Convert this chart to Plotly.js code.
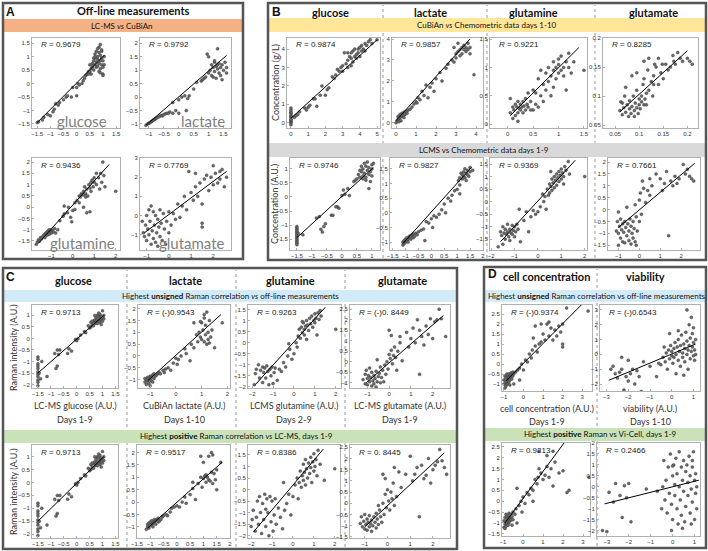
<!DOCTYPE html>
<html>
<head>
<meta charset="utf-8">
<script src="https://cdn.plot.ly/plotly-3.0.1.min.js"></script>
<style>html,body{margin:0;padding:0;background:#fff;}</style>
</head>
<body>
<div id="chart" style="width:708px;height:551px;"></div>
<script>
// ---- data: [x, y] points and fitted line ends ----

// A: LC-MS vs CuBiAn
var aGlucose = [[-1.5,-1.45],[-1.45,-1.42],[-1.3,-1.35],[-1.25,-1.25],[-1.1,-1.15],[-1.0,-1.2],[-0.9,-1.05],[-0.85,-0.95],[-0.8,-0.75],[-0.7,-0.8],[-0.65,-0.7],[-0.5,-0.6],[-0.4,-0.5],[-0.35,-0.45],[-0.2,-0.5],[-0.15,-0.15],[0.0,-0.45],[0.0,-0.15],[0.05,0.0],[0.1,-0.05],[0.2,0.0],[0.25,0.1],[0.3,0.2],[0.35,0.3],[0.4,0.35],[0.45,0.45],[0.5,0.45],[0.55,0.55],[0.55,0.35],[0.6,0.6],[0.6,0.75],[0.65,0.5],[0.65,0.85],[0.7,0.7],[0.7,0.95],[0.7,1.1],[0.75,0.6],[0.75,1.2],[0.8,0.65],[0.8,0.9],[0.8,1.0],[0.85,0.45],[0.85,0.75],[0.85,1.15],[0.85,1.35],[0.9,0.55],[0.9,0.85],[0.9,1.05],[0.9,1.45],[0.95,0.7],[0.95,0.95],[0.95,1.2],[1.0,0.6],[1.0,0.85],[1.0,0.35],[1.0,0.3],[1.05,1.0],[1.05,0.7],[0.65,0.95],[0.75,0.8],[0.8,1.3],[0.95,1.25],[0.7,1.0],[0.6,0.65],[0.5,0.7],[0.45,0.35],[0.9,0.4]];
var aGlucoseFit = [[-1.5,-1.45],[1.05,1.05]];
var aLactate = [[-1.1,-1.05],[-1.05,-1.0],[-1.0,-0.97],[-0.97,-0.95],[-0.93,-0.92],[-0.9,-0.9],[-0.87,-0.87],[-0.85,-0.85],[-0.8,-0.82],[-0.78,-0.8],[-0.75,-0.78],[-0.7,-0.75],[-0.65,-0.72],[-0.6,-0.68],[-0.55,-0.7],[-0.5,-0.65],[-0.45,-0.62],[-0.4,-0.6],[-0.35,-0.6],[-0.3,-0.55],[-0.2,-0.6],[-0.1,-0.5],[0.0,-0.6],[-0.2,-0.2],[0.0,-0.1],[0.1,0.0],[0.2,0.05],[0.3,-0.05],[0.35,0.05],[0.25,-0.5],[0.5,0.3],[0.6,0.55],[0.75,0.6],[0.8,0.65],[0.85,0.7],[0.9,0.75],[0.95,1.6],[1.0,0.9],[1.05,1.0],[1.1,0.8],[1.1,1.2],[1.15,0.75],[1.15,1.1],[1.2,1.3],[1.2,0.95],[1.25,1.15],[1.25,0.7],[1.3,1.8],[1.3,1.2],[1.3,1.05],[1.35,1.25],[1.35,0.9],[1.4,1.1],[1.4,0.8],[1.45,1.2],[1.45,0.65],[1.5,1.0],[1.55,1.3],[1.6,1.1],[1.6,0.9],[1.0,1.5],[1.2,1.35]];
var aLactateFit = [[-1.1,-1.05],[1.6,1.55]];
var aGlutamine = [[-1.7,-1.65],[-1.65,-1.55],[-1.6,-1.45],[-1.55,-1.5],[-1.5,-1.35],[-1.45,-1.4],[-1.4,-1.3],[-1.35,-1.25],[-1.3,-1.35],[-1.3,-1.2],[-1.25,-1.15],[-1.2,-1.25],[-1.2,-1.1],[-1.15,-1.05],[-1.1,-1.2],[-1.1,-1.0],[-1.05,-1.1],[-1.0,-1.15],[-1.0,-1.0],[-0.95,-1.05],[-0.9,-1.1],[-0.85,-0.95],[-0.8,-1.15],[-0.7,-1.0],[-0.6,-0.6],[-0.45,-0.4],[-0.4,-0.3],[-0.4,0.05],[-0.25,-0.25],[-0.1,-0.45],[-0.05,-0.65],[0.0,-0.15],[0.1,-0.1],[0.1,0.2],[0.2,0.3],[0.3,0.5],[0.35,0.45],[0.4,0.6],[0.45,0.55],[0.5,0.7],[0.5,0.55],[0.55,0.9],[0.6,0.6],[0.6,0.45],[0.65,0.8],[0.7,0.5],[0.75,1.0],[0.8,0.85],[0.85,0.7],[0.85,1.1],[0.9,1.2],[0.95,0.9],[1.0,1.3],[1.0,1.1],[1.1,1.0],[1.1,1.5],[1.2,1.3],[1.25,0.8],[1.3,1.5],[1.35,1.1],[1.4,2.0],[1.45,1.4],[1.5,0.9],[2.0,0.7],[0.8,-0.2],[0.5,0.0],[0.65,-0.25],[0.3,0.2],[-0.2,0.0]];
var aGlutamineFit = [[-1.6,-1.6],[1.7,1.9]];
var aGlutamate = [[-1.2,-0.3],[-1.15,-0.9],[-1.1,-1.1],[-1.05,-0.5],[-1.0,0.0],[-1.0,-1.3],[-0.95,-0.7],[-0.9,0.3],[-0.9,-1.0],[-0.85,-0.3],[-0.8,-1.5],[-0.8,0.5],[-0.75,-0.8],[-0.7,0.2],[-0.7,-1.2],[-0.65,-0.5],[-0.6,0.0],[-0.6,-1.4],[-0.55,-0.9],[-0.5,-0.2],[-0.5,-1.6],[-0.45,-0.6],[-0.4,0.3],[-0.4,-1.1],[-0.35,-0.4],[-0.3,-1.3],[-0.25,0.1],[-0.2,-0.7],[-0.15,-1.5],[-0.1,-0.3],[0.0,0.2],[0.0,-0.9],[0.1,-0.5],[0.2,0.1],[0.3,-0.2],[0.4,0.6],[0.5,-0.1],[0.6,0.5],[0.7,1.0],[0.8,0.3],[0.9,2.3],[1.0,1.2],[1.1,0.8],[1.2,1.5],[1.3,1.0],[1.4,1.7],[1.5,0.6],[1.5,-0.4],[1.5,-0.6],[1.6,1.9],[1.7,2.1],[1.8,1.3],[1.9,2.0],[2.0,2.6],[2.1,2.2],[2.2,1.7],[2.3,2.3],[2.4,2.4],[2.5,1.5],[2.6,2.0],[2.3,1.9],[2.0,1.6],[1.2,2.2]];
var aGlutamateFit = [[-1.1,-0.9],[2.6,2.3]];

// B: CuBiAn vs chemometric (days 1-10)
var bGlucose = [[0,-0.1],[0,0],[0,0.05],[0,0.1],[0,0.15],[0,0.2],[0,0.3],[0,0.35],[0,0.4],[0,0.5],[0,0.55],[0,0.6],[0,0.7],[0,0.8],[0.2,0.3],[0.3,0.4],[0.4,0.45],[0.5,0.6],[0.8,0.8],[0.9,0.7],[1.0,0.85],[1.1,0.95],[1.3,1.3],[1.4,1.3],[1.5,0.9],[1.7,1.5],[1.8,2.0],[2.0,1.5],[2.1,1.8],[2.2,1.9],[2.4,2.5],[2.5,2.4],[2.6,2.6],[2.8,2.8],[2.9,3.0],[3.0,3.1],[3.0,2.8],[3.1,3.8],[3.2,3.2],[3.3,3.4],[3.3,3.0],[3.4,3.6],[3.5,3.5],[3.5,3.8],[3.6,3.3],[3.6,3.9],[3.7,3.6],[3.7,4.0],[3.8,3.7],[3.8,3.5],[3.9,4.0],[3.9,3.8],[4.0,4.1],[4.0,3.6],[4.1,3.9],[4.1,4.2],[4.2,4.0],[4.3,4.3],[4.3,3.9],[4.4,4.2],[4.5,4.4],[4.6,4.5],[4.7,4.3],[5.0,4.5],[3.3,3.8],[2.7,2.9],[3.5,3.1]];
var bGlucoseFit = [[0,0.25],[5,4.5]];
var bLactate = [[0.0,0.0],[0.05,0.1],[0.1,0.15],[0.1,0.3],[0.15,0.2],[0.2,0.25],[0.2,0.4],[0.25,0.1],[0.3,0.3],[0.3,0.45],[0.35,0.35],[0.4,0.5],[0.4,0.25],[0.45,0.4],[0.5,0.55],[0.55,0.45],[0.6,0.6],[0.7,0.65],[0.8,0.75],[0.9,0.9],[1.0,1.0],[1.05,0.95],[1.1,1.2],[1.2,1.1],[1.3,1.5],[1.4,1.3],[1.5,1.8],[1.6,1.2],[1.7,1.7],[1.8,1.9],[1.9,1.5],[2.0,2.1],[2.2,2.4],[2.3,2.0],[2.5,2.6],[2.6,2.8],[2.8,3.0],[2.9,2.9],[3.0,3.3],[3.0,3.1],[3.1,3.4],[3.2,3.5],[3.2,3.2],[3.3,3.6],[3.3,3.3],[3.4,3.5],[3.4,3.7],[3.5,3.4],[3.5,3.6],[3.6,3.5],[3.6,3.8],[3.7,3.6],[3.7,3.3],[2.9,3.6],[3.1,3.8],[3.9,2.3],[4.5,3.4],[0.15,0.05],[0.25,0.35]];
var bLactateFit = [[0,0.1],[3.7,4.0]];
var bGlutamine = [[0.05,0.2],[0.05,0.45],[0.1,0.1],[0.1,0.3],[0.12,0.25],[0.15,0.15],[0.15,0.35],[0.18,0.3],[0.2,0.2],[0.2,0.4],[0.22,0.28],[0.25,0.25],[0.25,0.35],[0.28,0.3],[0.3,0.2],[0.3,0.4],[0.32,0.32],[0.35,0.25],[0.35,0.45],[0.38,0.35],[0.4,0.3],[0.4,0.55],[0.45,0.4],[0.5,0.25],[0.5,0.6],[0.55,0.55],[0.6,0.3],[0.6,0.8],[0.65,0.5],[0.7,0.7],[0.7,0.4],[0.75,0.9],[0.75,0.6],[0.8,0.75],[0.8,1.0],[0.85,0.85],[0.85,0.5],[0.9,0.95],[0.9,1.1],[0.95,0.8],[0.95,1.0],[1.0,0.9],[1.0,1.15],[1.0,1.05],[1.05,0.95],[1.05,1.2],[1.1,1.0],[1.1,0.85],[1.15,1.1],[1.15,0.6],[1.2,1.0],[1.2,1.25],[1.25,0.9],[1.3,1.1],[1.5,0.95],[0.45,0.25],[0.55,0.35],[0.65,0.95],[0.2,0.05],[0.9,0.65]];
var bGlutamineFit = [[0.05,0.15],[1.4,1.35]];
var bGlutamate = [[0.06,0.075],[0.062,0.09],[0.065,0.068],[0.068,0.08],[0.07,0.1],[0.072,0.072],[0.075,0.085],[0.078,0.065],[0.08,0.078],[0.08,0.092],[0.083,0.07],[0.085,0.082],[0.088,0.1],[0.09,0.075],[0.09,0.065],[0.092,0.088],[0.095,0.08],[0.095,0.11],[0.098,0.07],[0.1,0.095],[0.1,0.085],[0.102,0.078],[0.105,0.09],[0.105,0.1],[0.108,0.12],[0.11,0.085],[0.11,0.13],[0.112,0.095],[0.115,0.105],[0.118,0.145],[0.12,0.11],[0.12,0.165],[0.125,0.125],[0.128,0.1],[0.13,0.135],[0.132,0.155],[0.135,0.15],[0.14,0.12],[0.14,0.165],[0.145,0.14],[0.148,0.155],[0.15,0.13],[0.155,0.155],[0.16,0.145],[0.165,0.15],[0.17,0.17],[0.172,0.16],[0.175,0.155],[0.18,0.175],[0.185,0.165],[0.19,0.16],[0.2,0.165],[0.205,0.16],[0.21,0.155],[0.085,0.135],[0.095,0.14],[0.072,0.115],[0.065,0.088],[0.115,0.085],[0.13,0.12],[0.11,0.16]];
var bGlutamateFit = [[0.06,0.073],[0.2,0.178]];

// B: LCMS vs chemometric (days 1-9)
var bGlucose2 = [[-1.5,-1.05],[-1.5,-1.1],[-1.5,-1.15],[-1.5,-1.2],[-1.5,-1.25],[-1.5,-1.3],[-1.5,-1.35],[-1.5,-1.4],[-1.5,-1.45],[-1.5,-1.5],[-1.5,-1.55],[-1.5,-1.6],[-1.5,-1.65],[-1.5,-1.7],[-1.45,-1.3],[-1.3,-1.35],[-0.85,-0.75],[-0.75,-0.7],[-0.7,-1.15],[-0.65,-1.25],[-0.6,-1.05],[-0.55,-0.95],[-0.35,-0.65],[-0.3,-0.65],[-0.15,-0.35],[-0.1,-0.4],[-0.2,-0.35],[0.0,0.05],[0.05,0.25],[0.1,0.1],[0.2,0.3],[0.25,0.05],[0.4,0.55],[0.45,0.6],[0.5,0.65],[0.55,0.8],[0.6,0.7],[0.65,0.9],[0.7,0.75],[0.7,1.0],[0.75,0.85],[0.75,1.2],[0.8,0.7],[0.8,1.1],[0.85,0.95],[0.85,1.25],[0.9,0.8],[0.9,1.05],[0.95,0.9],[0.95,0.55],[1.0,1.15],[1.0,0.75],[1.0,1.0],[0.9,0.3],[0.7,0.65],[0.6,0.95],[0.8,0.6],[0.65,1.1],[1.05,1.2]];
var bGlucose2Fit = [[-1.5,-1.45],[1.05,1.05]];
var bLactate2 = [[-1.1,-1.1],[-1.1,-1.0],[-1.05,-1.05],[-1.05,-0.95],[-1.0,-1.0],[-1.0,-0.9],[-0.95,-0.95],[-0.95,-0.85],[-0.9,-0.9],[-0.9,-1.0],[-0.85,-0.85],[-0.85,-0.8],[-0.8,-0.9],[-0.8,-0.8],[-0.75,-0.75],[-0.7,-0.85],[-0.7,-0.72],[-0.65,-0.8],[-0.6,-0.7],[-0.55,-0.75],[-0.5,-0.65],[-0.4,-0.6],[-0.3,-0.55],[-0.2,-0.3],[-0.1,-0.35],[0.0,-0.2],[0.05,-0.5],[0.1,-0.1],[0.2,-0.15],[0.3,-0.05],[0.4,0.1],[0.5,0.3],[0.55,0.0],[0.65,0.5],[0.75,0.4],[0.8,0.6],[0.9,0.75],[1.0,0.8],[1.05,1.1],[1.1,1.2],[1.1,0.95],[1.15,1.35],[1.2,1.3],[1.2,1.15],[1.25,1.4],[1.25,1.25],[1.3,1.5],[1.3,1.2],[1.35,1.35],[1.35,1.1],[1.4,1.45],[1.4,1.3],[1.45,1.25],[1.5,1.4],[1.5,1.55],[1.6,1.45],[1.1,0.65],[-0.25,-0.95]];
var bLactate2Fit = [[-1.1,-1.05],[1.55,1.55]];
var bGlutamine2 = [[-1.7,-1.8],[-1.6,-1.2],[-1.55,-1.35],[-1.5,-1.7],[-1.5,-1.0],[-1.45,-1.25],[-1.4,-1.5],[-1.4,-1.1],[-1.35,-1.3],[-1.3,-0.9],[-1.3,-1.2],[-1.25,-1.4],[-1.2,-1.1],[-1.2,-1.55],[-1.15,-1.25],[-1.1,-0.95],[-1.1,-1.3],[-1.05,-1.15],[-1.0,-1.0],[-1.0,-1.4],[-0.95,-1.2],[-0.9,-0.9],[-0.85,-1.1],[-0.8,-0.3],[-0.75,-1.6],[-0.6,-0.75],[-0.5,-0.4],[-0.4,-1.2],[-0.3,-0.6],[-0.2,-0.35],[-0.1,-0.5],[0.0,-0.4],[0.1,-0.2],[0.2,0.3],[0.25,0.0],[0.3,0.2],[0.35,-0.3],[0.4,0.5],[0.45,0.25],[0.5,0.7],[0.5,0.35],[0.55,0.6],[0.6,0.9],[0.6,0.45],[0.65,0.75],[0.7,1.0],[0.7,0.55],[0.75,0.85],[0.8,1.1],[0.8,0.65],[0.85,0.95],[0.9,1.2],[0.9,0.8],[0.95,1.05],[1.0,1.3],[1.0,0.9],[1.05,1.15],[1.1,1.0],[1.15,1.4],[1.2,1.25],[1.3,1.6],[1.35,1.1],[2.0,1.0],[0.55,1.2],[1.1,0.7]];
var bGlutamine2Fit = [[-1.6,-1.6],[1.6,1.65]];
var bGlutamate2 = [[-1.1,-0.9],[-1.05,-0.5],[-1.0,-1.0],[-1.0,-0.1],[-0.95,-0.7],[-0.9,-1.2],[-0.9,-0.4],[-0.85,-0.85],[-0.8,-0.6],[-0.8,-1.35],[-0.75,-0.95],[-0.7,-0.5],[-0.7,-1.4],[-0.65,-0.75],[-0.6,-1.1],[-0.55,-0.6],[-0.5,-1.3],[-0.5,-0.9],[-0.45,-0.4],[-0.4,-1.45],[-0.4,-0.7],[-0.35,-1.0],[-0.3,-1.2],[-0.3,-0.5],[-0.25,-0.8],[-0.2,-1.35],[-0.2,0.2],[-0.15,-0.3],[-0.1,-0.9],[0.0,-0.5],[0.0,0.4],[0.05,0.7],[0.1,-0.2],[0.15,1.2],[0.2,0.9],[0.3,0.3],[0.4,0.8],[0.5,0.6],[0.5,1.3],[0.6,1.0],[0.8,1.5],[1.0,1.3],[1.1,0.8],[1.3,1.6],[1.4,-1.1],[1.5,1.2],[1.6,1.0],[1.7,1.4],[1.8,1.1],[1.9,1.3],[2.1,1.9],[2.2,1.5],[2.3,1.7],[2.4,1.4],[2.5,1.3],[2.6,1.2],[1.2,1.1],[-0.6,0.1],[-1.0,-1.5],[-0.15,-1.5]];
var bGlutamate2Fit = [[-1.0,-0.75],[2.65,1.95]];

// C: Raman vs off-line, unsigned (top) and positive (bottom)
var cGlucose = [[-1.5,-0.8],[-1.5,-0.9],[-1.5,-1.1],[-1.5,-1.2],[-1.5,-1.3],[-1.5,-1.45],[-1.5,-1.55],[-1.5,-1.65],[-1.5,-1.8],[-1.5,-1.9],[-1.5,-2.05],[-1.45,-1.5],[-1.4,-1.75],[-1.35,-1.0],[-1.15,-1.65],[-0.85,-0.65],[-0.75,-0.5],[-0.7,-0.7],[-0.8,-1.3],[-0.75,-1.2],[-0.65,-0.5],[-0.35,-0.65],[-0.3,-0.45],[-0.2,-0.55],[-0.05,-0.05],[0.0,-0.1],[0.05,0.0],[0.15,0.15],[0.3,0.3],[0.35,0.25],[0.45,0.55],[0.5,0.45],[0.55,0.7],[0.55,0.5],[0.6,0.6],[0.65,0.75],[0.65,0.55],[0.7,0.8],[0.7,0.65],[0.75,0.9],[0.75,0.7],[0.8,1.0],[0.8,0.8],[0.8,0.65],[0.85,0.95],[0.85,0.75],[0.9,1.05],[0.9,0.85],[0.9,0.7],[0.95,0.95],[0.95,0.8],[1.0,1.2],[1.0,0.9],[1.0,0.75],[1.05,1.0],[1.05,0.85],[0.85,1.1],[0.7,1.0],[0.6,0.75],[0.95,0.6]];
var cGlucoseFit = [[-1.5,-1.5],[1.05,1.0]];
var cLactate = [[-1.2,-1.1],[-1.2,-0.95],[-1.15,-1.2],[-1.15,-1.0],[-1.1,-1.05],[-1.1,-0.9],[-1.05,-1.15],[-1.05,-0.95],[-1.0,-1.0],[-1.0,-0.85],[-1.0,-1.25],[-0.95,-0.9],[-0.95,-1.05],[-0.9,-0.8],[-0.9,-1.1],[-0.85,-0.95],[-0.85,-0.75],[-0.8,-0.85],[-0.75,-0.8],[-0.7,-0.75],[-0.65,-0.7],[-0.6,-0.75],[-0.5,-0.6],[-0.45,-0.7],[-0.4,-0.55],[-0.3,-0.5],[-0.2,-0.6],[-0.1,-0.3],[0.0,-0.1],[0.05,-0.35],[0.1,-0.15],[0.2,0.0],[0.35,0.3],[0.4,0.1],[0.55,-0.2],[0.6,0.5],[0.7,0.35],[0.8,0.9],[0.85,0.6],[0.9,1.0],[0.95,0.8],[1.0,1.4],[1.0,0.7],[1.05,1.1],[1.1,0.6],[1.1,1.6],[1.15,0.9],[1.15,1.3],[1.2,0.5],[1.2,1.85],[1.25,1.0],[1.25,0.7],[1.3,1.5],[1.3,0.55],[1.35,0.8],[1.4,1.1],[1.5,0.35],[1.8,1.4],[0.7,1.4],[0.95,1.45],[1.1,1.75]];
var cLactateFit = [[-1.1,-1.05],[1.75,1.75]];
var cGlutamine = [[-1.9,-1.9],[-1.85,-1.4],[-1.8,-1.2],[-1.7,-1.0],[-1.65,-1.6],[-1.6,-1.25],[-1.5,-1.1],[-1.5,-1.8],[-1.45,-1.35],[-1.4,-1.15],[-1.35,-1.6],[-1.3,-1.05],[-1.25,-1.3],[-1.2,-1.9],[-1.15,-1.2],[-1.1,-1.5],[-1.05,-1.1],[-1.0,-1.85],[-0.95,-1.35],[-0.9,-1.15],[-0.8,-1.7],[-0.7,-1.2],[-0.6,-1.3],[-0.5,-0.9],[-0.4,-1.1],[-0.3,-0.6],[-0.2,-0.3],[-0.1,-0.75],[0.0,-0.5],[0.1,0.0],[0.15,-0.2],[0.2,0.3],[0.25,0.6],[0.3,0.2],[0.35,0.7],[0.4,0.45],[0.45,0.9],[0.5,0.6],[0.55,0.75],[0.6,1.0],[0.65,0.8],[0.7,0.55],[0.75,1.1],[0.8,0.85],[0.85,1.2],[0.9,0.7],[0.95,1.0],[1.0,1.3],[1.0,0.9],[1.05,1.1],[1.1,0.35],[1.15,1.35],[1.2,1.05],[1.3,1.2],[2.0,0.6],[0.5,0.35],[0.4,0.95],[0.6,0.15],[-0.25,-0.05],[1.25,1.45]];
var cGlutamineFit = [[-1.85,-1.9],[1.5,1.6]];
var cGlutamate = [[-1.2,-0.85],[-1.1,-0.6],[-1.1,-1.05],[-1.05,-0.4],[-1.0,-0.8],[-1.0,-1.1],[-0.95,-0.65],[-0.9,-0.95],[-0.9,-0.3],[-0.85,-0.75],[-0.8,-1.15],[-0.8,-0.5],[-0.75,-0.9],[-0.7,-0.65],[-0.7,-1.05],[-0.65,-0.8],[-0.6,-0.45],[-0.6,-1.2],[-0.55,-0.95],[-0.5,-0.7],[-0.45,-0.55],[-0.4,-1.0],[-0.4,-0.25],[-0.35,-0.75],[-0.3,-0.4],[-0.25,-0.95],[-0.2,-0.15],[-0.15,-0.6],[-0.1,0.0],[-0.05,-0.35],[0.0,0.35],[0.05,0.15],[0.1,0.55],[0.15,-0.1],[0.2,0.3],[0.25,0.7],[0.3,0.2],[0.4,0.5],[0.5,0.9],[0.0,1.5],[0.1,1.25],[0.5,1.2],[0.8,1.4],[0.9,0.7],[1.0,1.1],[1.1,1.6],[1.2,0.9],[1.3,2.0],[1.4,1.5],[1.4,-0.6],[1.5,1.2],[1.6,0.8],[1.7,1.7],[1.8,1.3],[1.9,2.05],[2.0,1.1],[2.1,1.9],[2.2,2.0],[2.3,2.5],[2.4,2.05],[2.6,1.2],[-0.55,0.1],[0.35,-0.4],[0.6,0.05]];
var cGlutamateFit = [[-1.05,-1.0],[2.5,2.2]];
var cLactate2 = [[-1.15,-1.1],[-1.1,-1.0],[-1.1,-0.9],[-1.05,-1.05],[-1.05,-0.85],[-1.0,-0.95],[-1.0,-0.8],[-0.95,-0.9],[-0.95,-0.75],[-0.9,-0.85],[-0.9,-1.0],[-0.85,-0.8],[-0.85,-0.7],[-0.8,-0.75],[-0.8,-0.9],[-0.75,-0.7],[-0.7,-0.8],[-0.7,-0.65],[-0.65,-0.75],[-0.6,-0.7],[-0.55,-0.6],[-0.5,-0.55],[-0.4,-0.5],[-0.35,-0.55],[-0.25,-0.4],[-0.2,-0.25],[-0.1,-0.2],[0.0,-0.15],[0.1,-0.2],[0.2,0.0],[0.3,0.2],[0.35,-0.05],[0.5,0.3],[0.6,0.55],[0.7,0.1],[0.8,0.75],[0.9,1.0],[0.95,0.6],[1.0,0.95],[1.05,1.05],[1.1,0.8],[1.1,1.1],[1.15,1.0],[1.2,0.9],[1.2,1.85],[1.25,0.85],[1.3,2.0],[1.3,1.2],[1.35,0.75],[1.35,1.9],[1.4,1.15],[1.45,0.9],[1.5,0.5],[1.5,1.3],[1.65,1.6],[0.9,1.85],[1.0,1.6],[0.6,0.8]];
var cLactate2Fit = [[-1.1,-1.05],[1.7,1.6]];
var cGlutamine2 = [[-2.0,-1.6],[-1.95,-1.3],[-1.9,-0.9],[-1.8,-1.8],[-1.75,-1.2],[-1.7,-0.5],[-1.65,-1.5],[-1.6,-0.3],[-1.55,-1.0],[-1.5,-1.9],[-1.45,-0.6],[-1.4,-1.3],[-1.35,-0.2],[-1.3,-1.6],[-1.25,-0.4],[-1.2,-1.0],[-1.15,-2.0],[-1.1,-0.3],[-1.05,-1.4],[-1.0,-0.5],[-0.95,-1.8],[-0.9,-1.1],[-0.85,-0.4],[-0.8,-1.5],[-0.7,-0.8],[-0.6,-1.2],[-0.5,-1.7],[-0.4,-0.9],[-0.3,-0.6],[-0.2,-0.2],[-0.1,-1.1],[0.0,-0.3],[0.1,0.2],[0.2,0.5],[0.25,-0.4],[0.3,0.3],[0.35,0.8],[0.4,0.1],[0.45,0.6],[0.5,1.1],[0.5,0.4],[0.55,0.75],[0.6,0.2],[0.6,1.3],[0.65,0.9],[0.7,0.5],[0.75,1.15],[0.8,0.7],[0.85,1.4],[0.85,0.95],[0.9,0.3],[0.95,1.2],[1.0,0.8],[1.0,1.55],[1.05,1.0],[1.1,1.3],[1.15,0.6],[1.2,1.7],[1.3,1.1],[2.0,0.9],[1.5,0.4],[-0.45,0.3],[-1.3,-0.85]];
var cGlutamine2Fit = [[-1.9,-1.85],[1.45,1.75]];
var cGlutamate2 = [[-1.2,-0.9],[-1.15,-0.6],[-1.1,-1.05],[-1.05,-0.8],[-1.0,-1.15],[-1.0,-0.5],[-0.95,-0.95],[-0.9,-0.7],[-0.9,-1.2],[-0.85,-0.85],[-0.8,-1.05],[-0.8,-0.55],[-0.75,-0.9],[-0.7,-0.75],[-0.7,-1.25],[-0.65,-1.0],[-0.6,-0.6],[-0.55,-0.85],[-0.5,-1.1],[-0.5,-0.45],[-0.45,-0.7],[-0.4,-0.95],[-0.35,-0.3],[-0.3,-0.6],[-0.25,-0.85],[-0.2,0.0],[-0.15,-0.5],[-0.1,0.4],[-0.05,-0.2],[0.0,0.6],[0.05,0.1],[0.1,-0.3],[0.15,0.5],[0.2,0.2],[0.25,0.9],[0.3,-0.1],[-0.2,1.3],[-0.1,1.1],[0.3,1.6],[0.5,1.4],[0.6,0.7],[0.8,1.3],[1.0,2.1],[1.1,1.0],[1.2,1.3],[1.3,1.6],[1.4,-0.6],[1.5,1.7],[1.6,1.1],[1.7,1.25],[1.8,2.0],[1.9,0.9],[2.0,1.5],[2.1,1.7],[2.2,1.85],[2.3,2.4],[2.4,1.9],[2.5,1.6],[2.6,1.3],[-0.4,-0.1],[0.4,0.3]];
var cGlutamate2Fit = [[-1.0,-1.05],[2.5,2.25]];

// D: cell concentration and viability
var dCells = [[-1.0,-1.0],[-1.0,-0.8],[-0.95,-1.2],[-0.95,-0.6],[-0.9,-0.9],[-0.9,-0.7],[-0.9,-1.1],[-0.85,-0.5],[-0.85,-0.85],[-0.85,-1.0],[-0.8,-0.75],[-0.8,-0.6],[-0.8,-0.95],[-0.75,-0.7],[-0.75,-0.5],[-0.75,-0.9],[-0.7,-0.8],[-0.7,-0.6],[-0.7,-1.05],[-0.65,-0.65],[-0.65,-0.45],[-0.6,-0.75],[-0.6,-0.55],[-0.55,-0.6],[-0.55,-0.4],[-0.5,-0.5],[-0.4,-0.4],[-0.3,-0.3],[-0.2,-0.2],[-0.1,0.0],[0.0,-0.3],[0.1,0.2],[0.2,0.1],[0.3,0.5],[0.4,0.3],[0.45,0.7],[0.5,1.3],[0.6,0.9],[0.7,0.6],[0.8,1.0],[0.9,1.1],[1.0,1.5],[1.1,1.2],[1.2,2.0],[1.3,1.4],[1.4,1.8],[1.5,1.2],[1.6,1.7],[1.7,1.4],[1.8,1.9],[1.9,1.6],[2.0,2.0],[2.0,1.0],[2.0,0.85],[2.2,2.8],[3.3,2.65],[-0.5,-1.0],[-0.2,-0.8],[0.6,1.9],[0.9,2.0],[1.3,2.1]];
var dCellsFit = [[-0.9,-0.85],[2.95,2.95]];
var dViability = [[-2.8,-1.0],[-2.7,-0.8],[-2.6,-1.3],[-2.5,-1.6],[-2.4,-1.2],[-2.3,-1.0],[-2.2,-2.4],[-2.1,-1.5],[-2.0,-1.8],[-2.0,-0.4],[-1.9,-1.3],[-1.8,-1.0],[-1.7,-2.0],[-1.6,-1.1],[-1.5,-1.5],[-1.4,-2.5],[-1.3,-0.5],[-2.3,-0.2],[-1.0,-0.8],[-0.7,-1.5],[-0.5,-0.7],[-0.4,-0.2],[-0.35,0.5],[-0.3,-0.5],[-0.25,0.1],[-0.2,-1.0],[-0.15,0.3],[-0.1,-0.3],[-0.05,0.6],[0.0,-0.1],[0.0,0.2],[0.05,-0.6],[0.1,0.4],[0.1,-0.2],[0.15,0.8],[0.2,0.0],[0.2,-1.3],[0.25,0.5],[0.3,-0.4],[0.3,1.0],[0.35,0.2],[0.4,-0.8],[0.4,0.6],[0.45,1.3],[0.5,0.1],[0.5,-0.2],[0.55,0.7],[0.6,-0.5],[0.6,0.4],[0.65,1.5],[0.7,0.0],[0.7,0.9],[0.75,-1.0],[0.75,0.3],[0.8,2.0],[0.8,0.6],[0.85,-0.3],[0.85,1.1],[0.9,0.2],[0.9,2.5],[0.95,0.5],[0.95,1.4],[1.0,-0.1],[1.0,0.8],[1.0,1.8],[1.05,0.3],[1.05,-0.4],[1.1,1.0],[1.1,0.0],[0.7,3.0],[-0.1,1.4],[0.3,1.6],[-0.6,-0.6],[0.55,-1.4]];
var dViabilityFit = [[-2.9,-1.75],[1.1,0.7]];
var dCells2 = [[-0.95,-1.2],[-0.95,-0.9],[-0.9,-1.05],[-0.9,-0.75],[-0.9,-1.25],[-0.85,-0.95],[-0.85,-0.6],[-0.85,-1.15],[-0.8,-0.85],[-0.8,-1.0],[-0.8,-0.7],[-0.75,-0.9],[-0.75,-1.1],[-0.75,-0.65],[-0.7,-0.8],[-0.7,-1.0],[-0.7,-0.55],[-0.65,-0.75],[-0.65,-0.9],[-0.6,-0.6],[-0.6,-0.85],[-0.55,-0.7],[-0.55,-1.1],[-0.5,-0.5],[-0.5,-0.85],[-0.4,-0.6],[-0.3,-1.0],[-0.35,-0.35],[-0.2,-0.2],[-0.1,0.0],[0.0,0.2],[0.1,-0.1],[0.2,0.4],[0.3,0.3],[0.4,0.6],[0.5,0.5],[0.6,1.0],[0.7,0.8],[0.75,1.1],[0.8,1.5],[0.9,1.3],[1.0,1.0],[1.1,1.2],[1.2,1.6],[1.3,1.1],[1.4,1.5],[1.5,0.7],[1.6,1.8],[1.8,1.3],[2.0,1.4],[2.2,0.4],[2.3,0.5],[3.3,1.1],[0.8,2.3],[1.2,2.1],[1.5,2.3],[-0.3,0.6],[0.5,0.0],[-0.05,-0.5]];
var dCells2Fit = [[-0.9,-1.0],[2.05,2.68]];
var dViability2 = [[-3.2,-2.0],[-3.0,-2.05],[-2.9,-0.25],[-2.7,-0.7],[-2.6,0.15],[-2.4,-0.4],[-2.3,-1.4],[-2.2,0.05],[-2.1,-0.5],[-2.0,0.15],[-1.9,-1.6],[-1.2,-0.1],[-0.7,-0.2],[-0.5,-1.0],[-0.4,1.2],[-0.35,-0.6],[-0.3,0.3],[-0.25,-1.2],[-0.2,0.9],[-0.15,-0.3],[-0.1,1.5],[-0.05,-0.8],[0.0,0.5],[0.0,-1.5],[0.05,1.0],[0.1,-0.4],[0.1,0.1],[0.15,1.3],[0.2,-1.0],[0.2,0.6],[0.25,-1.7],[0.3,1.6],[0.3,0.0],[0.35,-0.6],[0.4,0.9],[0.4,-1.3],[0.45,0.3],[0.5,1.2],[0.5,-0.2],[0.55,-1.6],[0.6,0.7],[0.6,-0.9],[0.65,1.0],[0.7,-0.4],[0.7,0.2],[0.75,1.4],[0.8,-1.2],[0.8,0.5],[0.85,-0.1],[0.9,0.9],[0.9,-0.7],[0.95,1.6],[1.0,0.3],[1.0,-1.5],[1.05,-0.3],[1.05,0.6],[1.1,0.0],[1.1,-1.0],[-0.05,-2.0],[0.45,-1.9],[0.0,0.95],[-0.45,0.0],[0.9,1.2],[0.85,-1.7]];
var dViability2Fit = [[-3.1,-0.78],[1.2,0.3]];

// correlation labels as printed
var rLabels = ['0.9679','0.9792','0.9436','0.7769',
  '0.9874','0.9857','0.9221','0.8285',
  '0.9746','0.9827','0.9369','0.7661',
  '0.9713','(-)0.9543','0.9263','(-)0. 8449',
  '0.9713','0.9517','0.8386','0. 8445',
  '(-)0.9374','(-)0.6543','0.9213','0.2466'];

// ---- layout: subplot boxes in pixels [left, top, right, bottom] ----
var W = 708, H = 551;
function px(x) { return x / W; }
function py(y) { return 1 - y / H; }

var plots = [
  {pts: aGlucose, fit: aGlucoseFit, box: [32,38,120,128], xr: [-1.7,1.65], yr: [-1.65,1.69], dx: 0.5, dy: 0.5},
  {pts: aLactate, fit: aLactateFit, box: [140,38,231,128], xr: [-1.3,1.75], yr: [-1.15,2.2], dx: 0.5, dy: 0.5},
  {pts: aGlutamine, fit: aGlutamineFit, box: [32,158,120,250], xr: [-1.9,2.2], yr: [-1.9,2.18], dx: 1, dy: 0.5},
  {pts: aGlutamate, fit: aGlutamateFit, box: [140,158,231,250], xr: [-1.3,2.8], yr: [-1.8,3.0], dx: 1, dy: 1},
  {pts: bGlucose, fit: bGlucoseFit, box: [287,38,380,128], xr: [-0.23,5.17], yr: [-0.28,4.6], dx: 1, dy: 1},
  {pts: bLactate, fit: bLactateFit, box: [392,38,483,128], xr: [-0.2,4.35], yr: [-0.25,4.05], dx: 1, dy: 1},
  {pts: bGlutamine, fit: bGlutamineFit, box: [490,38,587,128], xr: [-0.35,1.56], yr: [-0.07,1.52], dx: 0.5, dy: 0.5},
  {pts: bGlutamate, fit: bGlutamateFit, box: [603,38,698,128], xr: [0.025,0.222], yr: [0.045,0.2], dx: 0.05, dy: 0.05},
  {pts: bGlucose2, fit: bGlucose2Fit, box: [290,158,380,250], xr: [-1.73,1.27], yr: [-1.89,1.39], dx: 0.5, dy: 0.5},
  {pts: bLactate2, fit: bLactate2Fit, box: [390,158,483,250], xr: [-1.6,2.0], yr: [-1.27,1.87], dx: 0.5, dy: 0.5},
  {pts: bGlutamine2, fit: bGlutamine2Fit, box: [490,158,587,250], xr: [-2.05,2.1], yr: [-1.93,1.74], dx: 1, dy: 0.5},
  {pts: bGlutamate2, fit: bGlutamate2Fit, box: [608,158,700,250], xr: [-1.5,2.9], yr: [-1.7,2.17], dx: 1, dy: 0.5},
  {pts: cGlucose, fit: cGlucoseFit, box: [32,305,118,388], xr: [-1.73,1.6], yr: [-2.15,1.45], dx: 0.5, dy: 0.5},
  {pts: cLactate, fit: cLactateFit, box: [138,305,230,388], xr: [-1.47,2.1], yr: [-1.35,2.15], dx: 1, dy: 0.5},
  {pts: cGlutamine, fit: cGlutamineFit, box: [248,305,341,388], xr: [-2.2,2.25], yr: [-2.05,1.7], dx: 1, dy: 0.5},
  {pts: cGlutamate, fit: cGlutamateFit, box: [350,305,450,388], xr: [-1.8,2.8], yr: [-1.25,2.7], dx: 1, dy: 0.5},
  {pts: cGlucose, fit: cGlucoseFit, box: [32,445,118,538], xr: [-1.73,1.6], yr: [-2.15,1.45], dx: 0.5, dy: 0.5},
  {pts: cLactate2, fit: cLactate2Fit, box: [137,445,230,538], xr: [-1.5,2.0], yr: [-1.45,2.3], dx: 0.5, dy: 0.5},
  {pts: cGlutamine2, fit: cGlutamine2Fit, box: [248,445,340,538], xr: [-2.15,2.25], yr: [-2.1,1.93], dx: 1, dy: 0.5},
  {pts: cGlutamate2, fit: cGlutamate2Fit, box: [350,445,450,538], xr: [-1.65,2.75], yr: [-1.55,2.6], dx: 1, dy: 0.5},
  {pts: dCells, fit: dCellsFit, box: [502,305,592,391], xr: [-1.1,3.5], yr: [-1.35,2.95], dx: 1, dy: 0.5},
  {pts: dViability, fit: dViabilityFit, box: [600,305,700,391], xr: [-3.3,1.3], yr: [-2.47,3.33], dx: 1, dy: 1},
  {pts: dCells2, fit: dCells2Fit, box: [502,443,590,536], xr: [-1.05,3.35], yr: [-1.6,2.68], dx: 1, dy: 0.5},
  {pts: dViability2, fit: dViability2Fit, box: [597,443,700,536], xr: [-3.45,1.25], yr: [-2.25,2.0], dx: 1, dy: 0.5}
];

var tickFont = {family: 'Liberation Sans, Arial, sans-serif', size: 6, color: '#333'};
var txtFont = 'Lato, Open Sans, sans-serif';

var traces = [];
var annotations = [];
var shapes = [];
var layout = {
  width: W, height: H,
  margin: {l: 0, r: 0, t: 0, b: 0},
  paper_bgcolor: '#fff',
  plot_bgcolor: '#fff',
  showlegend: false
};

plots.forEach(function(p, i) {
  var n = i === 0 ? '' : String(i + 1);
  traces.push({
    x: p.pts.map(function(d) { return d[0]; }),
    y: p.pts.map(function(d) { return d[1]; }),
    xaxis: 'x' + n, yaxis: 'y' + n,
    type: 'scatter', mode: 'markers',
    marker: {size: 3, color: '#6a6a6a', line: {width: 0.4, color: '#333'}},
    hoverinfo: 'skip'
  });
  traces.push({
    x: p.fit.map(function(d) { return d[0]; }),
    y: p.fit.map(function(d) { return d[1]; }),
    xaxis: 'x' + n, yaxis: 'y' + n,
    type: 'scatter', mode: 'lines',
    line: {color: '#000', width: 1},
    hoverinfo: 'skip'
  });
  var axisBase = {
    showgrid: false, zeroline: false,
    showline: true, mirror: true, linecolor: '#b0b0b0', linewidth: 1,
    ticks: 'inside', ticklen: 2, tickcolor: '#b0b0b0',
    tickfont: tickFont, fixedrange: true
  };
  layout['xaxis' + n] = Object.assign({}, axisBase, {
    domain: [px(p.box[0]), px(p.box[2])], anchor: 'y' + n,
    range: p.xr, dtick: p.dx, tick0: 0
  });
  layout['yaxis' + n] = Object.assign({}, axisBase, {
    domain: [py(p.box[3]), py(p.box[1])], anchor: 'x' + n,
    range: p.yr, dtick: p.dy, tick0: 0
  });
  annotations.push({
    xref: 'paper', yref: 'paper', x: px(p.box[0] + 7), y: py(p.box[1] + 7),
    xanchor: 'left', yanchor: 'middle', showarrow: false,
    text: '<i>R</i> = ' + rLabels[i],
    font: {family: 'Liberation Sans, Arial, sans-serif', size: 8, color: '#222'}
  });
});

function note(x, y, text, size, opts) {
  annotations.push(Object.assign({
    xref: 'paper', yref: 'paper', x: px(x), y: py(y),
    xanchor: 'center', yanchor: 'middle', showarrow: false,
    text: text, font: {family: txtFont, size: size, color: '#111'}
  }, opts || {}));
}
function rect(x0, y0, x1, y1, fill, line) {
  shapes.push({
    type: 'rect', xref: 'paper', yref: 'paper', layer: 'below',
    x0: px(x0), x1: px(x1), y0: py(y1), y1: py(y0),
    fillcolor: fill || 'rgba(0,0,0,0)',
    line: line || {width: 0}
  });
}
function vdash(x, y0, y1) {
  shapes.push({
    type: 'line', xref: 'paper', yref: 'paper', layer: 'below',
    x0: px(x), x1: px(x), y0: py(y1), y1: py(y0),
    line: {color: '#9a9a9a', width: 1, dash: 'dot'}
  });
}

// dashed column separators (drawn first so bands cover them)
[383, 487, 595].forEach(function(x) { vdash(x, 5, 258); });
[127, 236, 345].forEach(function(x) { vdash(x, 270, 547); });
vdash(597, 269, 546);

// coloured bands
rect(4, 19, 242, 32, '#F4B183');
rect(269, 18, 705, 32, '#FFE699');
rect(269, 143, 705, 157, '#D9D9D9');
rect(4, 290, 456, 302, '#D3EBF9');
rect(4, 430, 456, 443, '#C9E2B8');
rect(485, 290, 705, 302, '#D3EBF9');
rect(485, 428, 705, 441, '#C9E2B8');

// panel frames
var frame = {color: '#555', width: 2.5};
shapes.push({type: 'rect', xref: 'paper', yref: 'paper', x0: px(3), x1: px(243), y0: py(259), y1: py(3), line: frame});
shapes.push({type: 'rect', xref: 'paper', yref: 'paper', x0: px(268), x1: px(706), y0: py(260), y1: py(3), line: frame});
shapes.push({type: 'rect', xref: 'paper', yref: 'paper', x0: px(3), x1: px(457), y0: py(549), y1: py(268), line: frame});
shapes.push({type: 'rect', xref: 'paper', yref: 'paper', x0: px(484), x1: px(706), y0: py(548), y1: py(267), line: frame});

// panel letters
var letterFont = {family: 'Liberation Sans, Arial, sans-serif', size: 12, color: '#111'};
note(10, 12, '<b>A</b>', 12, {font: letterFont});
note(276, 12, '<b>B</b>', 12, {font: letterFont});
note(10, 277, '<b>C</b>', 12, {font: letterFont});
note(492, 274, '<b>D</b>', 12, {font: letterFont});

// headers
note(133, 11, '<b>Off-line measurements</b>', 11);
note(330, 12, '<b>glucose</b>', 11);
note(430, 12, '<b>lactate</b>', 11);
note(533, 12, '<b>glutamine</b>', 11);
note(653, 12, '<b>glutamate</b>', 11);
note(73, 280, '<b>glucose</b>', 11);
note(185, 280, '<b>lactate</b>', 11);
note(290, 280, '<b>glutamine</b>', 11);
note(402, 280, '<b>glutamate</b>', 11);
note(546, 276, '<b>cell concentration</b>', 11);
note(645, 276, '<b>viability</b>', 11);

// band texts
note(122, 26, 'LC-MS <i>vs</i> CuBiAn', 8);
note(487, 25, 'CuBiAn <i>vs</i> Chemometric data days 1-10', 8);
note(484, 150, 'LCMS vs Chemometric data days 1-9', 8);
note(230, 296, 'Highest <b>unsigned</b> Raman correlation <i>vs</i> off-line measurements', 8);
note(236, 436, 'Highest <b>positive</b> Raman correlation <i>vs</i> LC-MS, days 1-9', 8);
note(597, 296, 'Highest <b>unsigned</b> Raman correlation vs off-line measurements', 8);
note(600, 434, 'Highest <b>positive</b> Raman vs Vi-Cell, days 1-9', 8);

// big grey labels inside panel A
var bigGrey = {family: txtFont, size: 15, color: '#7f7f7f'};
note(82, 121, 'glucose', 15, {font: bigGrey});
note(203, 121, 'lactate', 15, {font: bigGrey});
note(82, 243, 'glutamine', 15, {font: bigGrey});
note(192, 243, 'glutamate', 15, {font: bigGrey});

// axis titles
var axFont = {family: txtFont, size: 9, color: '#333'};
note(275, 83, 'Concentration (g/L)', 9, {textangle: -90, font: axFont});
note(275, 204, 'Concentration (A.U.)', 9, {textangle: -90, font: axFont});
note(13, 348, 'Raman intensity (A.U.)', 9, {textangle: -90, font: axFont});
note(13, 492, 'Raman intensity (A.U.)', 9, {textangle: -90, font: axFont});

note(75, 405, 'LC-MS glucose (A.U.)', 9, {font: axFont});
note(184, 405, 'CuBiAn lactate (A.U.)', 9, {font: axFont});
note(294, 405, 'LCMS glutamine (A.U.)', 9, {font: axFont});
note(400, 405, 'LC-MS glutamate (A.U.)', 9, {font: axFont});
note(547, 408, 'cell concentration (A.U.)', 9, {font: axFont});
note(650, 408, 'viability (A.U.)', 9, {font: axFont});
note(75, 419, 'Days 1-9', 9, {font: axFont});
note(184, 419, 'Days 1-10', 9, {font: axFont});
note(294, 419, 'Days 2-9', 9, {font: axFont});
note(400, 419, 'Days 1-9', 9, {font: axFont});
note(547, 421, 'Days 1-9', 9, {font: axFont});
note(650, 421, 'Days 1-10', 9, {font: axFont});

layout.annotations = annotations;
layout.shapes = shapes;

Plotly.newPlot('chart', traces, layout, {displayModeBar: false, staticPlot: true});
</script>
</body>
</html>
